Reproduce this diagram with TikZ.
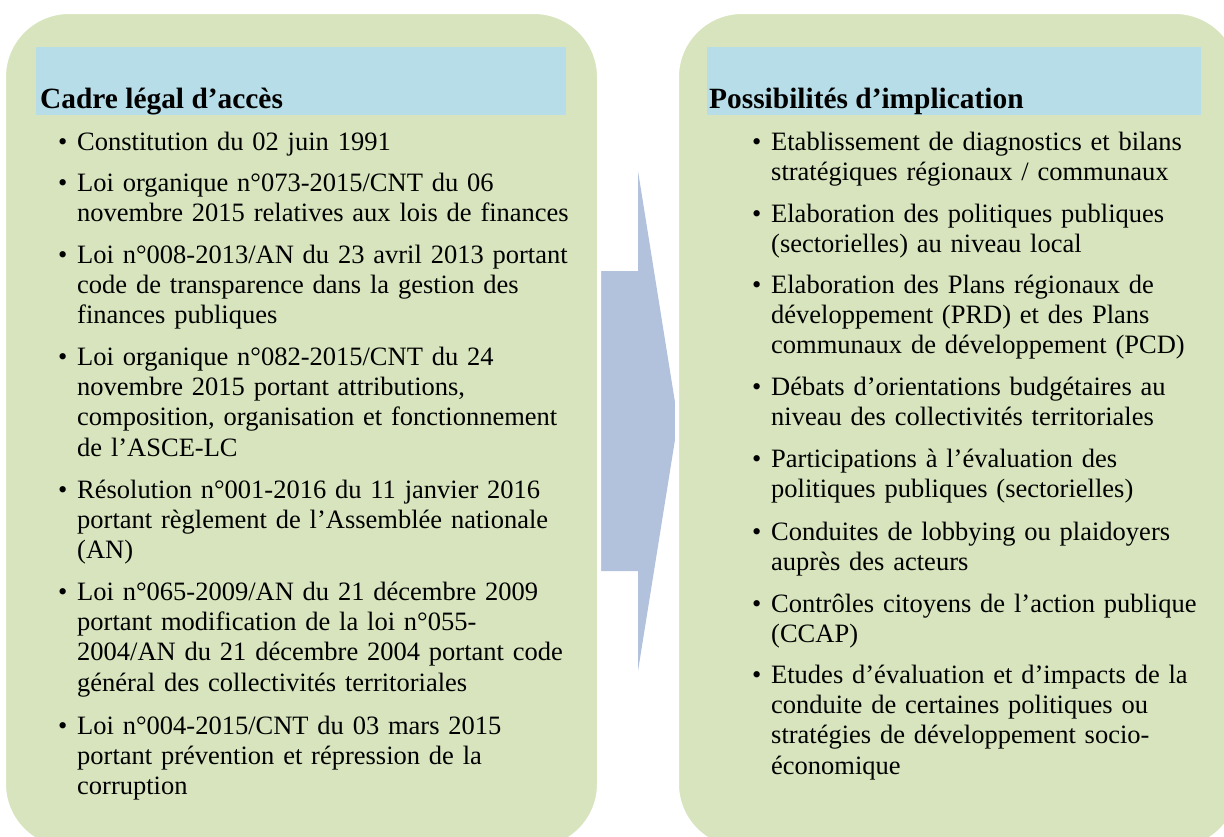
\documentclass[tikz,border=0pt]{standalone}
\usepackage{fontspec}
\setmainfont{Liberation Serif}
\definecolor{boxgreen}{HTML}{D7E4BD}
\definecolor{headblue}{HTML}{B7DEE8}
\definecolor{arrowblue}{HTML}{B3C2DC}
\tikzset{
  panel/.style={fill=boxgreen, draw=white, line width=4pt, rounded corners=65pt},
  header/.style={fill=headblue},
  headtext/.style={anchor=base west, inner sep=0pt, font=\fontsize{29.4}{34}\selectfont\bfseries},
  item/.style={anchor=base west, inner sep=0pt, text width=#1, align=left,
    font=\fontsize{26.5}{30.4}\selectfont},
  item/.default=500pt
}
\newcommand{\bul}{\llap{•\hspace{9.8pt}}}
\begin{document}
\begin{tikzpicture}[x=1pt,y=-1pt]
\useasboundingbox (0,0) rectangle (1224,836);
\fill[white] (0,0) rectangle (1224,836);
% arrow between the panels
\fill[arrowblue] (599,271) -- (638,271) -- (638,171) -- (678,421) -- (638,671) -- (638,571) -- (599,571) -- cycle;
% panels
\path[panel] (4,12) rectangle (599,849);
\path[panel] (677,12) rectangle (1240,849);
% header bands
\fill[header] (36,47) rectangle (566,115);
\fill[header] (707,47) rectangle (1201,115);
% headings
\node[headtext] (h1) at (40,108) {Cadre légal d’accès};
\node[headtext] (h2) at (709,108) {Possibilités d’implication};
% left list
\node[item] (l1) at (77,150) {\bul Constitution du 02 juin 1991};
\node[item] (l2) at (77,191) {\bul Loi organique n°073-2015/CNT du 06\\novembre 2015 relatives aux lois de finances};
\node[item] (l3) at (77,263) {\bul Loi n°008-2013/AN du 23 avril 2013 portant\\code de transparence dans la gestion des\\finances publiques};
\node[item] (l4) at (77,365) {\bul Loi organique n°082-2015/CNT du 24\\novembre 2015 portant attributions,\\composition, organisation et fonctionnement\\de l’ASCE-LC};
\node[item] (l5) at (77,498) {\bul Résolution n°001-2016 du 11 janvier 2016\\portant règlement de l’Assemblée nationale\\(AN)};
\node[item] (l6) at (77,600) {\bul Loi n°065-2009/AN du 21 décembre 2009\\portant modification de la loi n°055-\\2004/AN du 21 décembre 2004 portant code\\général des collectivités territoriales};
\node[item] (l7) at (77,734) {\bul Loi n°004-2015/CNT du 03 mars 2015\\portant prévention et répression de la\\corruption};
% right list
\node[item=440pt] (r1) at (771,150) {\bul Etablissement de diagnostics et bilans\\stratégiques régionaux / communaux};
\node[item=440pt] (r2) at (771,222) {\bul Elaboration des politiques publiques\\(sectorielles) au niveau local};
\node[item=440pt] (r3) at (771,293) {\bul Elaboration des Plans régionaux de\\développement (PRD) et des Plans\\communaux de développement (PCD)};
\node[item=440pt] (r4) at (771,395) {\bul Débats d’orientations budgétaires au\\niveau des collectivités territoriales};
\node[item=440pt] (r5) at (771,467) {\bul Participations à l’évaluation des\\politiques publiques (sectorielles)};
\node[item=440pt] (r6) at (771,540) {\bul Conduites de lobbying ou plaidoyers\\auprès des acteurs};
\node[item=440pt] (r7) at (771,612) {\bul Contrôles citoyens de l’action publique\\(CCAP)};
\node[item=440pt] (r8) at (771,683) {\bul Etudes d’évaluation et d’impacts de la\\conduite de certaines politiques ou\\stratégies de développement socio-\\économique};
\end{tikzpicture}
\end{document}
